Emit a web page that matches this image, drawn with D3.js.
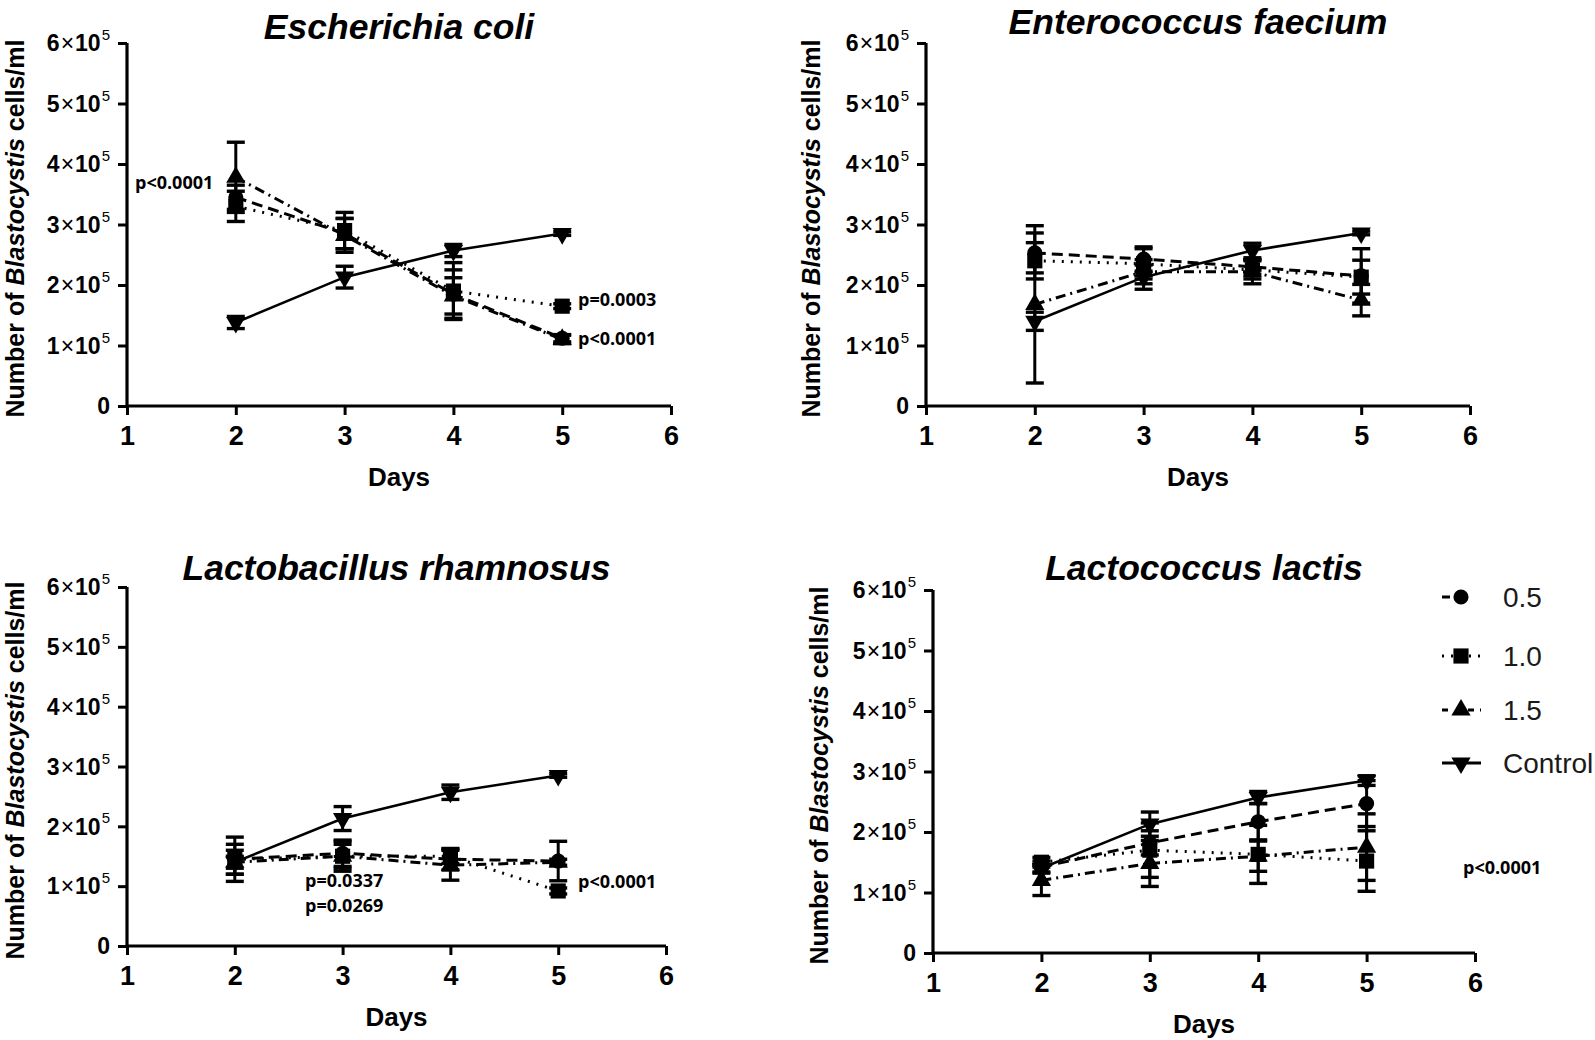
<!DOCTYPE html>
<html><head><meta charset="utf-8">
<script src="https://cdn.jsdelivr.net/npm/d3@7"></script>
<style>body{margin:0;background:#fff} svg{display:block}</style>
</head><body>
<svg id="c" width="1595" height="1040"></svg>
<script>
// ---------------- DATA ----------------
const days = [2, 3, 4, 5];
const xTicks = [1, 2, 3, 4, 5, 6];
const yTicks = [0, 100000, 200000, 300000, 400000, 500000, 600000];
const yTickMantissa = ["0", "1", "2", "3", "4", "5", "6"];
const yTickExponent = "5";
const seriesNames = ["0.5", "1.0", "1.5", "Control"];
const panelTitles = ["Escherichia coli", "Enterococcus faecium", "Lactobacillus rhamnosus", "Lactococcus lactis"];
const xAxisTitle = "Days";

// Escherichia coli
const ecoliMean05 = [345000, 285000, 185000, 112000];
const ecoliErr05  = [20000, 25000, 40000, 6000];
const ecoliMean10 = [330000, 290000, 190000, 165000];
const ecoliErr10  = [25000, 30000, 47000, 4000];
const ecoliMean15 = [378000, 282000, 182000, 110000];
const ecoliErr15  = [58000, 28000, 30000, 7000];
const ecoliMeanCtl = [138000, 213000, 257000, 285000];
const ecoliErrCtl  = [10000, 18000, 10000, 3000];

// Enterococcus faecium
const faeciumMean05 = [253000, 243000, 230000, 215000];
const faeciumErr05  = [33000, 20000, 12000, 45000];
const faeciumMean10 = [240000, 235000, 225000, 213000];
const faeciumErr10  = [30000, 25000, 15000, 28000];
const faeciumMean15 = [168000, 222000, 222000, 175000];
const faeciumErr15  = [130000, 20000, 20000, 26000];
const faeciumMeanCtl = [140000, 213000, 257000, 286000];
const faeciumErrCtl  = [15000, 20000, 12000, 3000];

// Lactobacillus rhamnosus
const rhamMean05 = [145000, 155000, 145000, 142000];
const rhamErr05  = [37000, 22000, 18000, 33000];
const rhamMean10 = [145000, 150000, 150000, 92000];
const rhamErr10  = [25000, 25000, 12000, 5000];
const rhamMean15 = [140000, 150000, 135000, 140000];
const rhamErr15  = [20000, 20000, 25000, 5000];
const rhamMeanCtl = [140000, 213000, 257000, 285000];
const rhamErrCtl  = [10000, 20000, 12000, 3000];

// Lactococcus lactis
const lactisMean05 = [142000, 182000, 217000, 247000];
const lactisErr05  = [10000, 20000, 30000, 38000];
const lactisMean10 = [150000, 170000, 163000, 152000];
const lactisErr10  = [8000, 45000, 48000, 50000];
const lactisMean15 = [120000, 148000, 160000, 175000];
const lactisErr15  = [25000, 38000, 25000, 55000];
const lactisMeanCtl = [140000, 213000, 257000, 285000];
const lactisErrCtl  = [6000, 20000, 10000, 8000];

const pValueTexts = [
  ["p<0.0001", "p=0.0003", "p<0.0001"],
  [],
  ["p=0.0337", "p=0.0269", "p<0.0001"],
  ["p<0.0001"]
];

// ---------------- LAYOUT / STYLE ----------------
const panels = [
  {l:127, r:671, t:43, b:406, titleY:39, ylabX:15,
   means:[ecoliMean05, ecoliMean10, ecoliMean15, ecoliMeanCtl],
   errs:[ecoliErr05, ecoliErr10, ecoliErr15, ecoliErrCtl],
   notePos:[[135,189],[578,306],[578,345]]},
  {l:926, r:1470, t:43, b:406, titleY:34, ylabX:811,
   means:[faeciumMean05, faeciumMean10, faeciumMean15, faeciumMeanCtl],
   errs:[faeciumErr05, faeciumErr10, faeciumErr15, faeciumErrCtl],
   notePos:[]},
  {l:127, r:666, t:587, b:946, titleY:580, ylabX:15,
   means:[rhamMean05, rhamMean10, rhamMean15, rhamMeanCtl],
   errs:[rhamErr05, rhamErr10, rhamErr15, rhamErrCtl],
   notePos:[[305,887],[305,912],[578,888]]},
  {l:933, r:1475, t:590, b:953, titleY:580, ylabX:819,
   means:[lactisMean05, lactisMean10, lactisMean15, lactisMeanCtl],
   errs:[lactisErr05, lactisErr10, lactisErr15, lactisErrCtl],
   notePos:[[1463,874]]}
];

const dashes = ["11,6", "2,7", "10,5,2,5", null];
const markerSyms = [d3.symbolCircle, d3.symbolSquare, d3.symbolTriangle, d3.symbolTriangle];
const markerSizes = [180, 230, 160, 160];
const markerRot = [0, 0, 0, 180];

const svg = d3.select("#c");
const narrowFont = "'Liberation Sans Narrow','Arial Narrow','Liberation Sans',Arial,sans-serif";
const boldFont = "'Liberation Sans',Arial,sans-serif";
const noteFont = "'Open Sans','Noto Sans',sans-serif";

panels.forEach((p, pi) => {
  const x = d3.scaleLinear().domain([1, 6]).range([p.l, p.r]);
  const y = d3.scaleLinear().domain([0, 600000]).range([p.b, p.t]);
  const g = svg.append("g");

  // axes
  const xAx = g.append("g").attr("transform", `translate(0,${p.b})`)
    .call(d3.axisBottom(x).tickValues(xTicks).tickSize(9).tickPadding(6).tickFormat(d3.format("d")));
  const yAx = g.append("g").attr("transform", `translate(${p.l},0)`)
    .call(d3.axisLeft(y).tickValues(yTicks).tickSize(9).tickPadding(8).tickFormat(""));
  [xAx, yAx].forEach(a => {
    a.select(".domain").attr("stroke", "#000").attr("stroke-width", 3.2)
      .attr("d", a === xAx ? `M${p.l},0H${p.r}` : `M0,${p.b}V${p.t}`);
    a.selectAll(".tick line").attr("stroke", "#000").attr("stroke-width", 3);
  });
  xAx.selectAll(".tick text").attr("fill", "#000").attr("font-family", narrowFont)
    .attr("font-weight", "bold").attr("font-size", 27).attr("dy", "0.9em");

  // y tick labels with superscript
  yTicks.forEach((v, i) => {
    const t = g.append("text").attr("x", p.l - 17).attr("y", y(v)).attr("dy", "0.36em")
      .attr("text-anchor", "end").attr("font-family", boldFont).attr("font-weight", "bold")
      .attr("font-size", 23).attr("fill", "#000");
    if (v === 0) { t.text(yTickMantissa[i]); }
    else {
      t.append("tspan").text(yTickMantissa[i]);
      t.append("tspan").attr("font-weight", "normal").attr("dx", 1).text("\u00d7");
      t.append("tspan").attr("dx", 1).text("10");
      t.append("tspan").attr("font-size", 15).attr("dy", "-0.75em").attr("dx", 1)
        .attr("font-weight", "normal").text(yTickExponent);
    }
  });

  // titles
  g.append("text").attr("x", (p.l + p.r) / 2).attr("y", p.titleY).attr("text-anchor", "middle")
    .attr("font-family", boldFont).attr("font-weight", "bold").attr("font-style", "italic")
    .attr("font-size", 35.5).attr("fill", "#000").text(panelTitles[pi]);

  g.append("text").attr("x", (p.l + p.r) / 2).attr("y", p.b + 80).attr("text-anchor", "middle")
    .attr("font-family", narrowFont).attr("font-weight", "bold").attr("font-size", 26)
    .attr("fill", "#000").text(xAxisTitle);

  const yl = g.append("text").attr("transform", `translate(${p.ylabX},${(p.t + p.b) / 2 + 4}) rotate(-90)`)
    .attr("text-anchor", "middle").attr("dy", "0.36em").attr("font-family", boldFont)
    .attr("font-weight", "bold").attr("font-size", 25).attr("fill", "#000");
  yl.append("tspan").text("Number of ");
  yl.append("tspan").attr("font-style", "italic").text("Blastocystis");
  yl.append("tspan").text(" cells/ml");

  // series
  p.means.forEach((m, si) => {
    const e = p.errs[si];
    const line = d3.line().x((d, i) => x(days[i])).y(d => y(d));
    const path = g.append("path").datum(m).attr("d", line).attr("fill", "none")
      .attr("stroke", "#000").attr("stroke-width", si === 3 ? 2.6 : 3);
    if (dashes[si]) path.attr("stroke-dasharray", dashes[si]);

    days.forEach((dday, i) => {
      const cx = x(dday), lo = y(m[i] - e[i]), hi = y(m[i] + e[i]);
      g.append("line").attr("x1", cx).attr("x2", cx).attr("y1", lo).attr("y2", hi)
        .attr("stroke", "#000").attr("stroke-width", 3);
      [lo, hi].forEach(yy => g.append("line").attr("x1", cx - 9).attr("x2", cx + 9)
        .attr("y1", yy).attr("y2", yy).attr("stroke", "#000").attr("stroke-width", 3.4));
      g.append("path").attr("d", d3.symbol().type(markerSyms[si]).size(markerSizes[si])())
        .attr("transform", `translate(${cx},${y(m[i])}) rotate(${markerRot[si]})`)
        .attr("fill", "#000");
    });
  });

  // p-value notes
  pValueTexts[pi].forEach((txt, k) => {
    g.append("text").attr("x", p.notePos[k][0]).attr("y", p.notePos[k][1])
      .attr("font-family", noteFont).attr("font-weight", "bold").attr("font-size", 18)
      .attr("fill", "#000").text(txt);
  });
});

// legend
const legY = [597, 656, 710, 763];
seriesNames.forEach((name, si) => {
  const lg = svg.append("g");
  const ln = lg.append("line").attr("x1", 1442).attr("x2", 1481).attr("y1", legY[si]).attr("y2", legY[si])
    .attr("stroke", "#000").attr("stroke-width", 3);
  if (dashes[si]) ln.attr("stroke-dasharray", si === 0 ? "8,5,2,30" : si === 1 ? "2,7" : "6,20,6");
  lg.append("path").attr("d", d3.symbol().type(markerSyms[si]).size(markerSizes[si])())
    .attr("transform", `translate(1461,${legY[si]}) rotate(${markerRot[si]})`).attr("fill", "#000");
  lg.append("text").attr("x", 1503).attr("y", legY[si]).attr("dy", "0.36em")
    .attr("font-family", "'Liberation Sans',Arial,sans-serif").attr("font-size", 28)
    .attr("fill", "#1a1a1a").text(name);
});
</script>
</body></html>
